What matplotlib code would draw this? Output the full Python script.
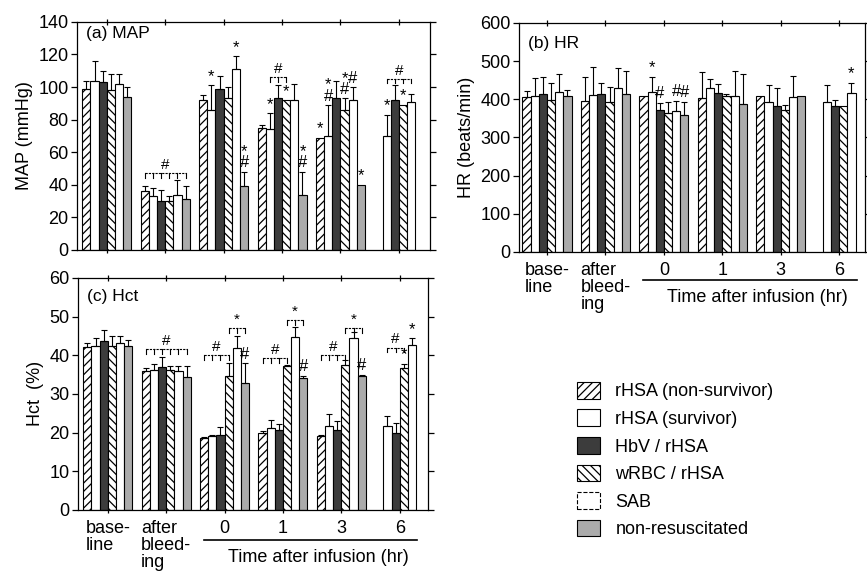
import numpy as np
import matplotlib
matplotlib.use('Agg')
import matplotlib.pyplot as plt
from matplotlib.patches import Patch

plt.rcParams['font.family'] = ['Liberation Sans', 'DejaVu Sans']
plt.rcParams['hatch.linewidth'] = 0.9

nan = np.nan
groups = ['base-\nline', 'after\nbleed-\ning', '0', '1', '3', '6']
series = ['rHSA (non-survivor)', 'rHSA (survivor)', 'HbV / rHSA',
          'wRBC / rHSA', 'SAB', 'non-resuscitated']

# ---- (a) MAP (mmHg): mean values and upper SD per series, per time group
map_nonsurv = [99, 36, 92, 75, 69, nan]
map_surv = [104, 33, 86, 74, 70, 70]
map_hbv = [103, 30, 99, 93, 93, 92]
map_wrbc = [98, 30, 93, 92, 86, 89]
map_sab = [102, 34, 111, 92, 92, 91]
map_nonres = [94, 31, 39, 34, 40, nan]
map_nonsurv_sd = [4.5, 3.5, 3, 2, 0, nan]
map_surv_sd = [12, 5, 15, 10, 19, 13]
map_hbv_sd = [7, 7, 8, 8, 11, 9]
map_wrbc_sd = [10, 3, 7, 0, 7, 0]
map_sab_sd = [6, 9, 8, 10, 8, 5]
map_nonres_sd = [6, 8.5, 9, 14, 0, nan]

# ---- (b) HR (beats/min)
hr_nonsurv = [405, 396, 410, 403, 410, nan]
hr_surv = [409, 411, 420, 429, 394, 394]
hr_hbv = [413, 413, 372, 416, 382, 382]
hr_wrbc = [398, 392, 365, 408, 372, 382]
hr_sab = [419, 429, 369, 409, 407, 416]
hr_nonres = [409, 413, 360, 387, 410, nan]
hr_nonsurv_sd = [17, 62, 0, 69, 0, nan]
hr_surv_sd = [46, 73, 39, 24, 43, 43]
hr_hbv_sd = [46, 31, 19, 24, 47, 16]
hr_wrbc_sd = [44, 39, 29, 5, 13, 0]
hr_sab_sd = [47, 52, 27, 66, 54, 28]
hr_nonres_sd = [15, 62, 34, 79, 0, nan]

# ---- (c) Hct (%)
hct_nonsurv = [42.1, 35.8, 18.5, 19.8, 19.1, nan]
hct_surv = [42.5, 36.1, 19.2, 21.1, 21.8, 21.6]
hct_hbv = [43.6, 37.0, 19.4, 20.7, 20.7, 20.0]
hct_wrbc = [42.5, 36.1, 34.7, 37.1, 37.5, 36.8]
hct_sab = [43.2, 35.8, 41.8, 44.8, 44.4, 42.7]
hct_nonres = [42.5, 34.5, 32.8, 34.1, 34.7, nan]
hct_nonsurv_sd = [1.1, 0.9, 0.3, 0.5, 0.3, nan]
hct_surv_sd = [2.0, 1.7, 0.3, 2.2, 3.0, 2.8]
hct_hbv_sd = [3.0, 2.5, 2.1, 1.5, 2.4, 2.4]
hct_wrbc_sd = [2.4, 1.2, 3.4, 0.3, 1.3, 1.0]
hct_sab_sd = [1.9, 1.3, 3.2, 2.4, 1.5, 1.7]
hct_nonres_sd = [1.5, 2.8, 5.1, 0.6, 0.3, nan]

# significance marks: (group, bar, text)
map_marks = [(2, 1, '*'), (2, 4, '*'), (2, 5, '*\n#'),
             (3, 1, '*'), (3, 3, '*'), (3, 5, '*\n#'),
             (4, 0, '*'), (4, 1, '*\n#'), (4, 3, '*\n#'), (4, 4, '#'), (4, 5, '*'),
             (5, 1, '*'), (5, 3, '*')]
map_brackets = [(1, 0, 5, 47, '#'), (3, 1, 3, 106, '#'), (5, 1, 4, 105, '#')]
hr_marks = [(2, 1, '*'), (2, 2, '#'), (2, 4, '#'), (2, 5, '#'), (5, 4, '*')]
hr_brackets = []
hct_marks = [(2, 5, '#'), (3, 5, '#'), (4, 5, '#'), (5, 3, '*'), (5, 4, '*')]
hct_brackets = [(1, 0, 5, 41.5, '#'),
                (2, 0, 3, 40, '#'), (2, 3, 5, 47, '*'),
                (3, 0, 3, 39.2, '#'), (3, 3, 5, 49, '*'),
                (4, 0, 3, 40, '#'), (4, 3, 5, 47, '*'),
                (5, 1, 3, 42, '#')]

styles = [dict(facecolor='white', hatch='////'),
          dict(facecolor='white', hatch=None),
          dict(facecolor='#3c3c3c', hatch=None),
          dict(facecolor='white', hatch='\\\\\\\\'),
          dict(facecolor='white', hatch=None),
          dict(facecolor='#ababab', hatch=None)]

W = 0.14
FS = 13
MFS = 12


def draw(ax, vals, sds, ymax, ystep, ylabel, title, title_y, marks, brackets,
         xlim, xlabels):
    x0 = np.arange(len(groups))
    for i, (v, s) in enumerate(zip(vals, sds)):
        v = np.array(v, float)
        s = np.array(s, float)
        xs = x0 + (i - 2.5) * W
        ax.bar(xs, v, W, edgecolor='black', linewidth=0.8, zorder=2, **styles[i])
        m = ~np.isnan(v) & (np.nan_to_num(s) > 0)
        ax.errorbar(xs[m], v[m], yerr=[np.zeros(m.sum()), s[m]], fmt='none',
                    ecolor='black', elinewidth=0.8, capsize=2.5, capthick=0.8,
                    zorder=3)
    pad = ymax * 0.006
    for g, b, t in marks:
        v = vals[b][g]
        s = np.nan_to_num(sds[b][g])
        ax.text(g + (b - 2.5) * W, v + s + pad, t, ha='center', va='bottom',
                fontsize=MFS, linespacing=0.7, zorder=4)
    tk = ymax * 0.02
    for g, b0, b1, y, t in brackets:
        xa = g + (b0 - 2.5) * W
        xb = g + (b1 - 2.5) * W
        ax.plot([xa, xb], [y, y], color='black', lw=0.8, ls=(0, (2, 1)), zorder=4)
        for b in range(b0, b1 + 1):
            xb_ = g + (b - 2.5) * W
            ax.plot([xb_, xb_], [y, y - tk], color='black', lw=0.8, zorder=4)
        ax.text((xa + xb) / 2, y + pad, t, ha='center', va='bottom', fontsize=MFS - 1,
                zorder=4)
    ax.set_xlim(*xlim)
    ax.set_ylim(0, ymax)
    ax.set_yticks(np.arange(0, ymax + 1e-9, ystep))
    ax.set_xticks(x0)
    if xlabels:
        ax.set_xticklabels(groups, fontsize=FS, linespacing=1.0,
                           multialignment='left', va='top')
    else:
        ax.set_xticklabels([])
    ax.tick_params(axis='y', labelsize=FS, direction='out', length=4, width=0.9,
                   right=True, pad=2)
    ax.tick_params(axis='x', direction='inout', length=4, width=0.9, top=True, pad=5)
    ax.set_ylabel(ylabel, fontsize=FS, labelpad=4)
    ax.text(0.026, title_y, title, transform=ax.transAxes, ha='left', va='top',
            fontsize=FS - 0.5)
    for sp in ax.spines.values():
        sp.set_linewidth(0.9)


fig = plt.figure(figsize=(8.67, 5.76), dpi=100)
axa = fig.add_axes([0.0888, 0.566, 0.407, 0.396])
axb = fig.add_axes([0.5986, 0.5625, 0.399, 0.3976])
axc = fig.add_axes([0.09, 0.1146, 0.404, 0.403])

draw(axa, [map_nonsurv, map_surv, map_hbv, map_wrbc, map_sab, map_nonres],
     [map_nonsurv_sd, map_surv_sd, map_hbv_sd, map_wrbc_sd, map_sab_sd, map_nonres_sd],
     140, 20, 'MAP (mmHg)', '(a) MAP', 0.98, map_marks, map_brackets,
     (-0.51, 5.53), False)
draw(axb, [hr_nonsurv, hr_surv, hr_hbv, hr_wrbc, hr_sab, hr_nonres],
     [hr_nonsurv_sd, hr_surv_sd, hr_hbv_sd, hr_wrbc_sd, hr_sab_sd, hr_nonres_sd],
     600, 100, 'HR (beats/min)', '(b) HR', 0.945, hr_marks, hr_brackets,
     (-0.48, 5.44), True)
draw(axc, [hct_nonsurv, hct_surv, hct_hbv, hct_wrbc, hct_sab, hct_nonres],
     [hct_nonsurv_sd, hct_surv_sd, hct_hbv_sd, hct_wrbc_sd, hct_sab_sd, hct_nonres_sd],
     60, 10, 'Hct  (%)', '(c) Hct', 0.95, hct_marks, hct_brackets,
     (-0.51, 5.49), True)

for ax, yl, yt in [(axb, -0.122, -0.197), (axc, -0.129, -0.203)]:
    tr = ax.get_xaxis_transform()
    ax.plot([1.64, 5.3], [yl, yl], color='black', lw=1.2, transform=tr,
            clip_on=False)
    ax.text(3.6, yt, 'Time after infusion (hr)', transform=tr, ha='center',
            va='center', fontsize=FS)

handles = []
for i, name in enumerate(series):
    st = dict(styles[i])
    ls = '--' if name == 'SAB' else '-'
    handles.append(Patch(label=name, edgecolor='black', linewidth=0.8,
                         linestyle=ls, **st))
fig.legend(handles=handles, loc='upper left', bbox_to_anchor=(0.666, 0.337),
           frameon=False, fontsize=FS, handlelength=1.25, handleheight=1.05,
           labelspacing=0.5, handletextpad=0.85, borderpad=0, borderaxespad=0)

fig.savefig('out.png', dpi=100, facecolor='white')
